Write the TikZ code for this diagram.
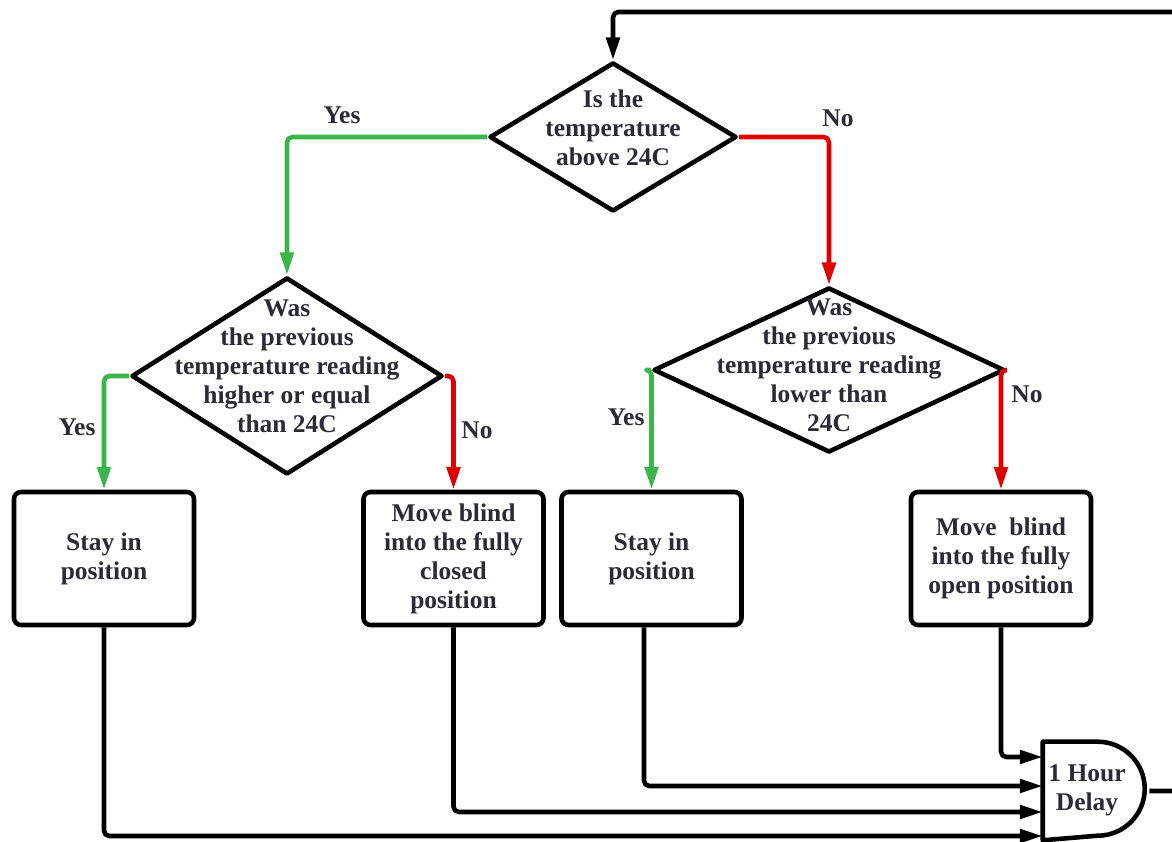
\documentclass[tikz,border=0pt]{standalone}
\usepackage{fontspec}
\setmainfont{Liberation Serif}[BoldFont={Liberation Serif Bold}]
\usepackage{tikz}
\usetikzlibrary{arrows.meta,shapes.geometric}
\definecolor{ink}{HTML}{2B2B36}
\definecolor{yesgreen}{HTML}{3AB54A}
\definecolor{nored}{HTML}{E00000}

\begin{document}
\begin{tikzpicture}[
		line width=2.6pt, line join=round,
		every node/.style={font=\rmfamily\bfseries\fontsize{14.5}{16.5}\selectfont, text=ink, align=center},
		decision/.style={draw=black, diamond, inner sep=0pt},
		action/.style={draw=black, rectangle, rounded corners=4pt, minimum width=3.6cm, minimum height=2.66cm},
		flow/.style={-{Triangle[length=13pt,width=7.5pt]}, rounded corners=3pt},
		yesflow/.style={flow, draw=yesgreen},
		noflow/.style={flow, draw=nored},
	]
					\useasboundingbox (0,0) rectangle (23.44,16.84);
					% decisions
					\node[decision, minimum width=4.94cm, minimum height=2.98cm] (q1) at (12.26,14.10) {};
					\node (q1txt) at (12.26,14.28) {Is the\\temperature\\above 24C};
					\node[decision, minimum width=6.22cm, minimum height=3.94cm] (q2) at (5.74,9.32) {};
					\node (q2txt) at (5.74,9.52) {Was\\the previous\\temperature reading\\higher or equal\\than 24C};
					\node[decision, minimum width=7.02cm, minimum height=3.30cm] (q3) at (16.58,9.44) {};
					\node (q3txt) at (16.58,9.54) {Was\\the previous\\temperature reading\\lower than\\24C};
					% actions
					\node[action] (stay1) at (2.08,5.67) {Stay in\\position};
					\node[action] (close) at (9.07,5.67) {Move blind\\into the fully\\closed\\position};
					\node[action] (stay2) at (13.03,5.67) {Stay in\\position};
					\node[action] (open) at (20.02,5.67) {Move\ \ blind\\into the fully\\open position};
					% delay
					\node[minimum width=2.04cm, minimum height=1.88cm, inner sep=0pt] (delay) at (21.92,1.02) {};
					\draw (delay.north west) -- ++(1.10,0) arc[start angle=90, end angle=-90, radius=0.94] -- (delay.south west) -- cycle;
					\node (delaytxt) at (21.74,1.04) {1 Hour\\Delay};
					\coordinate (loop) at (23.8,16.6);
					% answers
					\node[anchor=center] (y1) at (6.84,14.54) {Yes};
					\node[anchor=center] (n1) at (16.76,14.48) {No};
					\node[anchor=center] (y2) at (1.54,8.30) {Yes};
					\node[anchor=center] (n2) at (9.54,8.24) {No};
					\node[anchor=center] (y3) at (12.52,8.50) {Yes};
					\node[anchor=center] (n3) at (20.54,8.96) {No};
					% connectors
					\draw[yesflow] (q1.west) -| (q2.north);
					\draw[noflow] (q1.east) -| (q3.north);
					\draw[yesflow] (q2.west) -| (stay1.north);
					\draw[noflow] (q2.east) -| (close.north);
					\draw[yesflow] (q3.west) -| (stay2.north);
					\draw[noflow] (q3.east) -| (open.north);
					\draw[flow] (open.south) |- ([yshift=0.68cm]delay.west);
					\draw[flow] ([xshift=-0.15cm]stay2.south) |- ([yshift=0.10cm]delay.west);
					\draw[flow] (close.south) |- ([yshift=-0.42cm]delay.west);
					\draw[flow] (stay1.south) |- ([yshift=-0.90cm]delay.west);
					\draw[flow] (delay.east) -| (loop) -| (q1.north);
				\end{tikzpicture}
\end{document}
